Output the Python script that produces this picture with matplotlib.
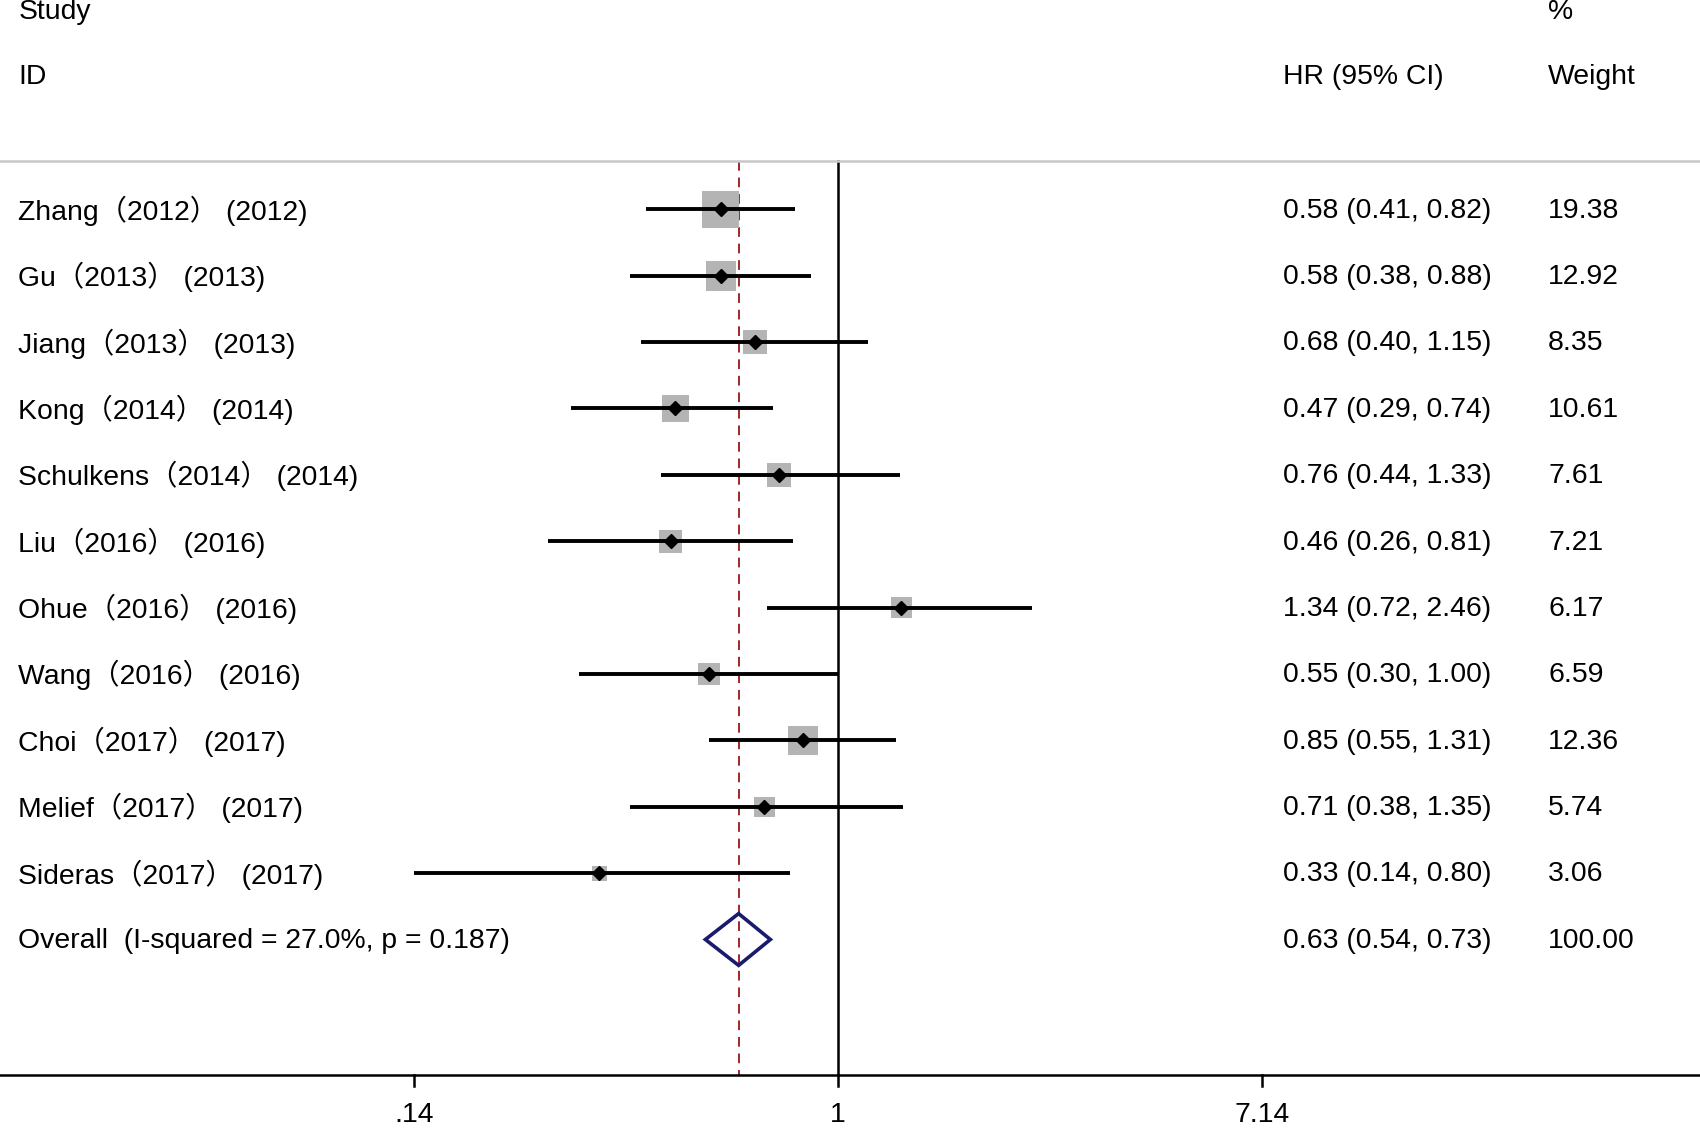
import matplotlib
matplotlib.use("Agg")
import matplotlib.pyplot as plt
import matplotlib.transforms as mtransforms
from matplotlib.patches import Polygon

plt.rcParams['font.family'] = ['Liberation Sans', 'Noto Sans CJK SC', 'DejaVu Sans']

studies = ["Zhang（2012） (2012)", "Gu（2013） (2013)", "Jiang（2013） (2013)",
           "Kong（2014） (2014)", "Schulkens（2014） (2014)", "Liu（2016） (2016)",
           "Ohue（2016） (2016)", "Wang（2016） (2016)", "Choi（2017） (2017)",
           "Melief（2017） (2017)", "Sideras（2017） (2017)"]
hr = [0.58, 0.58, 0.68, 0.47, 0.76, 0.46, 1.34, 0.55, 0.85, 0.71, 0.33]
lo = [0.41, 0.38, 0.40, 0.29, 0.44, 0.26, 0.72, 0.30, 0.55, 0.38, 0.14]
hi = [0.82, 0.88, 1.15, 0.74, 1.33, 0.81, 2.46, 1.00, 1.31, 1.35, 0.80]
weight = [19.38, 12.92, 8.35, 10.61, 7.61, 7.21, 6.17, 6.59, 12.36, 5.74, 3.06]

overall_label = "Overall  (I-squared = 27.0%, p = 0.187)"
overall_hr, overall_lo, overall_hi = 0.63, 0.54, 0.73

xticks = [0.14, 1, 7.14]
xticklabels = [".14", "1", "7.14"]

fs = 20.4

fig = plt.figure(figsize=(17, 11.3), dpi=100)
ax = fig.add_axes([0, 0, 1, 1])
ax.set_xscale('log')
ax.set_xlim(0.0205, 54.4)
ax.set_ylim(13.87, -3.154)
for s in ax.spines.values():
    s.set_visible(False)
ax.set_yticks([])

n = len(studies)
rows = list(range(n))
y_over = n
y_top = -0.735
y_axis = 13.04

# header
tr = mtransforms.blended_transform_factory(ax.transAxes, ax.transData)
ax.text(0.0108, -2.97, "Study", transform=tr, fontsize=fs, va='center')
ax.text(0.0108, -1.99, "ID", transform=tr, fontsize=fs, va='center')
ax.text(0.7545, -1.99, "HR (95% CI)", transform=tr, fontsize=fs, va='center')
ax.text(0.9107, -2.97, "%", transform=tr, fontsize=fs, va='center')
ax.text(0.9107, -1.99, "Weight", transform=tr, fontsize=fs, va='center')
ax.axhline(y_top, color='#c8c8c8', lw=1.8)

# reference lines
ax.plot([1, 1], [y_top, y_axis], color='black', lw=1.8, zorder=1)
ax.plot([overall_hr, overall_hr], [y_top, y_axis], color='#a0282a', lw=1.4,
        dashes=(5, 3.5), zorder=1)

# studies
ax.scatter(hr, rows, s=[37 * w for w in weight], marker='s', color='#b4b4b4',
           linewidths=0, zorder=2)
ax.hlines(rows, lo, hi, color='black', lw=2.8, zorder=3)
ax.plot(hr, rows, 'D', color='black', ms=7.5, zorder=4)

for i in rows:
    ax.text(0.0108, i + 0.02, studies[i], transform=tr, fontsize=fs, va='center')
    ax.text(0.7545, i + 0.02, "%.2f (%.2f, %.2f)" % (hr[i], lo[i], hi[i]),
            transform=tr, fontsize=fs, va='center')
    ax.text(0.9107, i + 0.02, "%.2f" % weight[i], transform=tr, fontsize=fs, va='center')

# overall diamond
h = 0.39
ax.add_patch(Polygon([(overall_lo, y_over), (overall_hr, y_over - h),
                      (overall_hi, y_over), (overall_hr, y_over + h)],
                     closed=True, fill=False, edgecolor='#1a1a6e', lw=2.6, zorder=5))
ax.text(0.0108, y_over + 0.02, overall_label, transform=tr, fontsize=fs, va='center')
ax.text(0.7545, y_over + 0.02, "%.2f (%.2f, %.2f)" % (overall_hr, overall_lo, overall_hi),
        transform=tr, fontsize=fs, va='center')
ax.text(0.9107, y_over + 0.02, "100.00", transform=tr, fontsize=fs, va='center')

# x axis
ax.axhline(y_axis, color='black', lw=1.8)
for t, lab in zip(xticks, xticklabels):
    ax.plot([t, t], [y_axis, y_axis + 0.17], color='black', lw=1.8)
    ax.text(t, 13.64, lab, fontsize=fs, ha='center', va='center')
ax.set_xticks([])
ax.minorticks_off()

fig.savefig("out.png", dpi=100)
